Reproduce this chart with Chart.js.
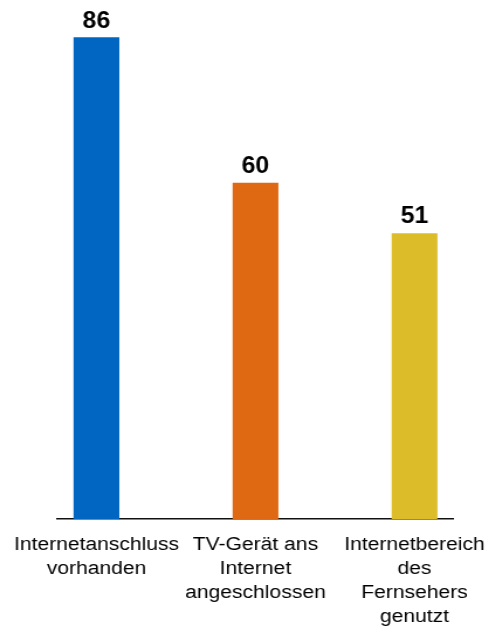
<!DOCTYPE html>
<html>
<head>
<meta charset="utf-8">
<script src="https://cdn.jsdelivr.net/npm/chart.js@4.4.1/dist/chart.umd.min.js"></script>
<style>
  html, body { margin: 0; padding: 0; background: #fff; overflow: hidden; }
  #wrap { width: 489px; height: 630px; overflow: hidden; }
  /* the reference text is a bit wider than Arial, so stretch the canvas sideways */
  #myChart { transform: scaleX(1.17); transform-origin: 0 0; }
</style>
</head>
<body>
<div id="wrap"><canvas id="myChart" width="418" height="630"></canvas></div>
<script>
// categories (multi-line labels as they appear under the axis)
const categories = [
    ['Internetanschluss', 'vorhanden'],
    ['TV-Gerät ans', 'Internet', 'angeschlossen'],
    ['Internetbereich', 'des', 'Fernsehers', 'genutzt']
]
const values = [86, 60, 51]
const barColors = ['#0066c2', '#de6912', '#dcbc28']

const font = 'Liberation Sans, Arial, sans-serif'
const stretch = 1.17

// value labels above each bar
const valueLabels = {
    id: 'valueLabels',
    afterDatasetsDraw(chart) {
        const ctx = chart.ctx
        const meta = chart.getDatasetMeta(0)
        meta.data.forEach((bar, i) => {
            ctx.save()
            ctx.translate(bar.x, bar.y - 10)
            ctx.scale(1.08 / stretch, 1)
            ctx.font = 'bold 23px ' + font
            ctx.fillStyle = '#000'
            ctx.textAlign = 'center'
            ctx.textBaseline = 'alphabetic'
            ctx.fillText(values[i], 0, 0)
            ctx.restore()
        })
    }
}

new Chart(document.getElementById('myChart'), {
    type: 'bar',
    data: {
        datasets: [{
            data: values.map((v, i) => ({ x: i, y: v })),
            backgroundColor: barColors,
            barThickness: 45 / stretch,
            borderWidth: 0
        }]
    },
    options: {
        responsive: false,
        animation: false,
        layout: { padding: { left: 57 / stretch, right: 418 - 453 / stretch, top: 0, bottom: 0 } },
        plugins: { legend: { display: false }, tooltip: { enabled: false } },
        scales: {
            x: {
                type: 'linear',
                offset: false,
                min: -0.248,
                max: 2.242,
                afterBuildTicks: (axis) => { axis.ticks = [0, 1, 2].map(v => ({ value: v })) },
                afterFit: (axis) => {
                    axis.height = 111
                    // labels may stick out past the axis line, like in the original
                    axis.paddingLeft = 0
                    axis.paddingRight = 0
                },
                grid: { display: false, drawTicks: false },
                border: { display: true, color: '#111', width: 1.5 },
                ticks: {
                    autoSkip: false,
                    maxRotation: 0,
                    padding: 14,
                    color: '#000',
                    font: { family: font, size: 18, lineHeight: 1.33 },
                    callback: (v) => categories[v] || ''
                }
            },
            y: {
                display: false,
                min: 0,
                max: 92.7
            }
        }
    },
    plugins: [valueLabels]
})
</script>
</body>
</html>
